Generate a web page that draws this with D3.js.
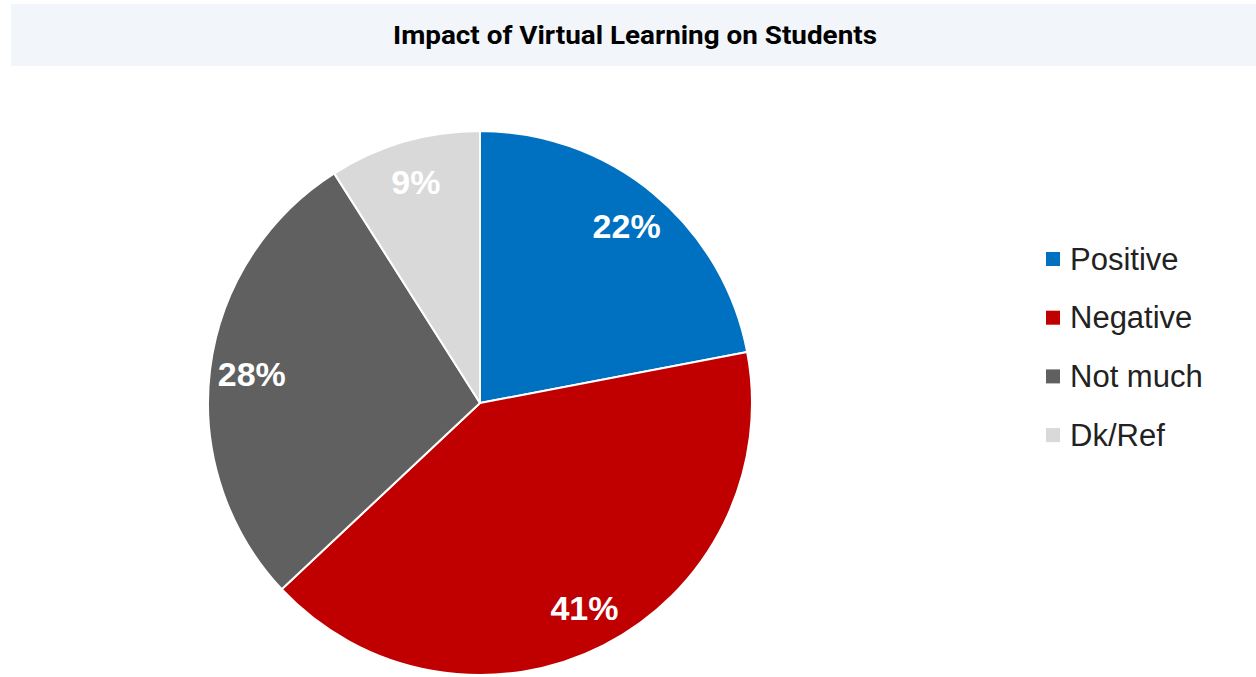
<!DOCTYPE html>
<html>
<head>
<meta charset="utf-8">
<script src="https://cdn.jsdelivr.net/npm/d3@7"></script>
<style>
  html, body { margin: 0; padding: 0; background: #ffffff; }
  svg { display: block; }
</style>
</head>
<body>
<svg id="chart" width="1256" height="677"></svg>
<script>
// Survey responses (percent of students)
const categories = ["Positive", "Negative", "Not much", "Dk/Ref"];
const values = [22, 41, 28, 9];
const colors = ["#0070c0", "#c00000", "#606060", "#d9d9d9"];

const svg = d3.select("#chart");
const W = 1256, H = 677;

// Title banner
svg.append("rect")
  .attr("x", 11).attr("y", 4)
  .attr("width", W - 11).attr("height", 62)
  .attr("fill", "#f2f6fa");
svg.append("text")
  .attr("x", 393).attr("y", 44)
  .attr("font-family", "Roboto, 'Liberation Sans', sans-serif")
  .attr("font-weight", 700)
  .attr("font-size", 26.5)
  .attr("textLength", 484)
  .attr("lengthAdjust", "spacingAndGlyphs")
  .attr("fill", "#000")
  .text("Impact of Virtual Learning on Students");

// Pie
const cx = 480, cy = 403, R = 272;
const data = categories.map((c, i) => ({ name: c, value: values[i], color: colors[i] }));
const pie = d3.pie().value(d => d.value).sort(null);
const arc = d3.arc().innerRadius(0).outerRadius(R);
const labelArc = d3.arc().innerRadius(230).outerRadius(230);

const g = svg.append("g").attr("transform", `translate(${cx},${cy})`);
const arcs = pie(data);

g.selectAll("path.slice")
  .data(arcs)
  .join("path")
  .attr("class", "slice")
  .attr("d", arc)
  .attr("fill", d => d.data.color)
  .attr("stroke", "#ffffff")
  .attr("stroke-width", 2)
  .attr("stroke-linejoin", "round");

g.selectAll("text.lbl")
  .data(arcs)
  .join("text")
  .attr("class", "lbl")
  .attr("transform", d => `translate(${labelArc.centroid(d)})`)
  .attr("text-anchor", "middle")
  .attr("dominant-baseline", "central")
  .attr("font-family", "'Liberation Sans', Arial, sans-serif")
  .attr("font-weight", 700)
  .attr("font-size", 34)
  .attr("fill", "#ffffff")
  .text(d => d.data.value + "%");

// Legend
const legend = svg.append("g").attr("transform", "translate(1046,259)");
const item = legend.selectAll("g")
  .data(data)
  .join("g")
  .attr("transform", (d, i) => `translate(0,${i * 58.7})`);
item.append("rect")
  .attr("x", 0).attr("y", -7)
  .attr("width", 14).attr("height", 14)
  .attr("fill", d => d.color);
item.append("text")
  .attr("x", 24).attr("y", 0)
  .attr("dominant-baseline", "central")
  .attr("font-family", "'Liberation Sans', Arial, sans-serif")
  .attr("font-size", 31)
  .attr("fill", "#222")
  .text(d => d.name);
</script>
</body>
</html>
